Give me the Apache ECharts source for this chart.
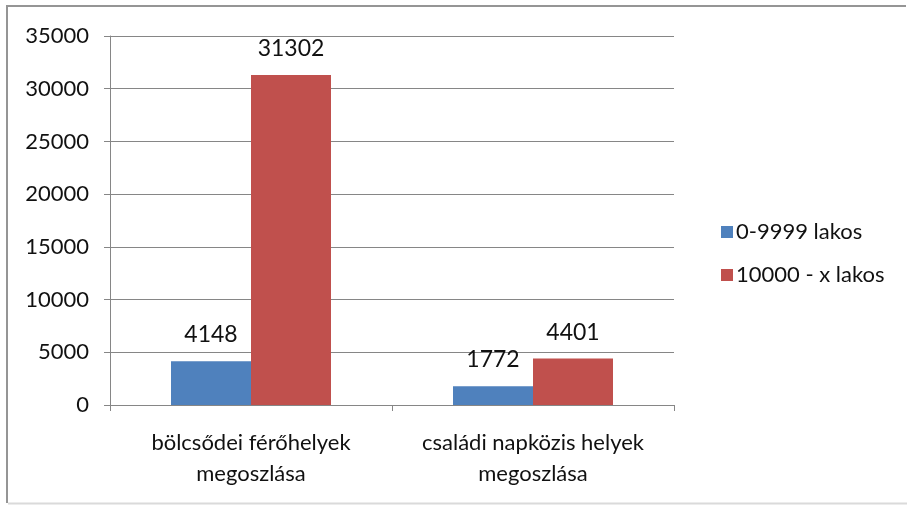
<!DOCTYPE html>
<html><head><meta charset="utf-8">
<script src="https://cdn.jsdelivr.net/npm/echarts@6/dist/echarts.min.js"></script>
<style>html,body{margin:0;padding:0;background:#fff}#c{width:907px;height:505px}</style>
</head><body><div id="c"></div>
<script>
var categories = ['bölcsődei férőhelyek\nmegoszlása', 'családi napközis helyek\nmegoszlása'];
var seriesNames = ['0-9999 lakos', '10000 - x lakos'];
var small = [4148, 1772];
var large = [31302, 4401];
var colors = ['#4F81BD', '#C0504D'];
var FONT = 'Lato';
var TXT = '#111';
var chart = echarts.init(document.getElementById('c'), null, {renderer: 'canvas'});
var labelStyle = {show: true, position: 'top', distance: 15, color: TXT, fontFamily: FONT, fontSize: 23};
chart.setOption({
  animation: false,
  textStyle: {fontFamily: FONT},
  graphic: [
    {type: 'line', shape: {x1: 6, y1: 6, x2: 906, y2: 6}, style: {stroke: '#959595', lineWidth: 2}},
    {type: 'line', shape: {x1: 7, y1: 5, x2: 7, y2: 503}, style: {stroke: '#959595', lineWidth: 2}},
    {type: 'line', shape: {x1: 8, y1: 503.5, x2: 907, y2: 503.5}, style: {stroke: '#dadada', lineWidth: 2}}
  ],
  grid: {left: 110, right: 233, top: 36, bottom: 100},
  legend: {
    orient: 'vertical', left: 716, top: 216, itemWidth: 12, itemHeight: 12, itemGap: 21,
    icon: 'rect',
    textStyle: {fontFamily: FONT, fontSize: 22, color: TXT, padding: [0, 0, 0, -2]},
    data: seriesNames
  },
  xAxis: {
    type: 'category', data: categories,
    axisLine: {lineStyle: {color: '#868686', width: 1}},
    axisTick: {show: true, length: 6, lineStyle: {color: '#868686'}},
    axisLabel: {interval: 0, color: TXT, fontFamily: FONT, fontSize: 22, lineHeight: 31, margin: 22}
  },
  yAxis: {
    type: 'value', min: 0, max: 35000, interval: 5000,
    axisLine: {show: true, lineStyle: {color: '#868686'}},
    axisTick: {show: true, length: 6, lineStyle: {color: '#868686'}},
    splitLine: {lineStyle: {color: '#868686', width: 1}},
    axisLabel: {color: TXT, fontFamily: FONT, fontSize: 22, margin: 21, formatter: function (v) { return String(v); }}
  },
  series: [
    {name: seriesNames[0], type: 'bar', data: small, itemStyle: {color: colors[0]}, barWidth: 80, barGap: '0%', label: labelStyle},
    {name: seriesNames[1], type: 'bar', data: large, itemStyle: {color: colors[1]}, barWidth: 80, barGap: '0%', label: labelStyle}
  ]
});
</script></body></html>
